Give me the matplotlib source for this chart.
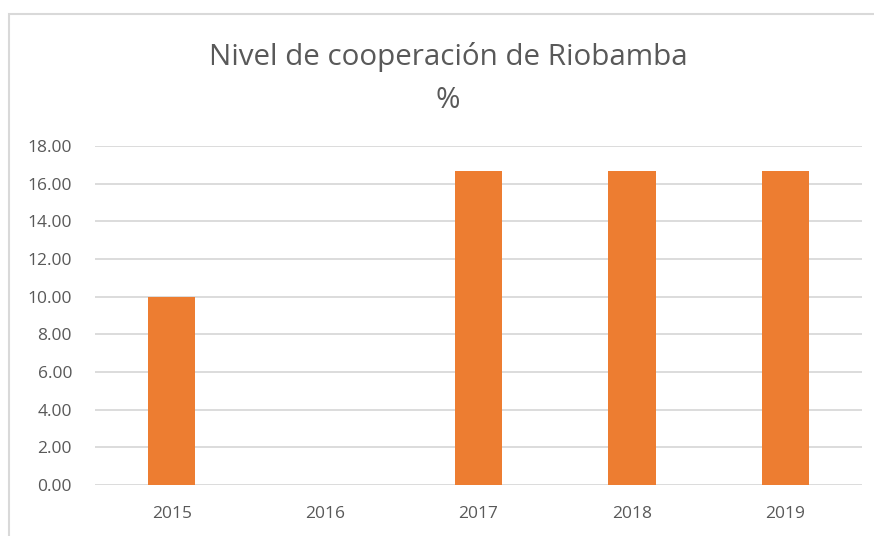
import matplotlib.pyplot as plt
import matplotlib.patches as patches

# data
years = ["2015", "2016", "2017", "2018", "2019"]
values = [10.0, 0.0, 16.67, 16.67, 16.67]
yticks = [0, 2, 4, 6, 8, 10, 12, 14, 16, 18]

plt.rcParams['font.family'] = ['Open Sans', 'DejaVu Sans']
txt_col = "#595959"
grid_col = "#D9D9D9"

fig = plt.figure(figsize=(8.74, 5.36), dpi=100)
ax = fig.add_axes([95/874, 1 - 485/536, (862 - 95)/874, (485 - 146)/536])

x_pos = list(range(len(years)))
ax.bar(x_pos, values, width=0.31, color="#ED7D31", zorder=3)

ax.set_xlim(-0.5, len(years) - 0.5)
ax.set_ylim(0, 18)
ax.set_yticks(yticks)
ax.set_yticklabels(["{:.2f}".format(v) for v in yticks])
ax.set_xticks(x_pos)
ax.set_xticklabels(years)
ax.tick_params(length=0, colors=txt_col, labelsize=12.5)
ax.tick_params(axis='y', pad=16.5)
ax.tick_params(axis='x', pad=15)
ax.grid(axis='y', color=grid_col, lw=1.3, zorder=0)

#remove the borders
for s in ax.spines.values():
    s.set_visible(False)

# title, two lines like in Excel
fig.text(448/874, 1 - 57/536, "Nivel de cooperación de Riobamba", ha='center', va='center',
         fontsize=21.3, color=txt_col)
fig.text(448/874, 1 - 100/536, "%", ha='center', va='center', fontsize=21.3, color=txt_col)

# chart frame (only left and top edges visible in the crop)
frame = patches.Rectangle((9/874, -0.2), 1.5, 0.2 + 1 - 14/536, transform=fig.transFigure,
                          fill=False, edgecolor=grid_col, lw=1.5, clip_on=False)
fig.add_artist(frame)

fig.savefig("out.png", dpi=100)
